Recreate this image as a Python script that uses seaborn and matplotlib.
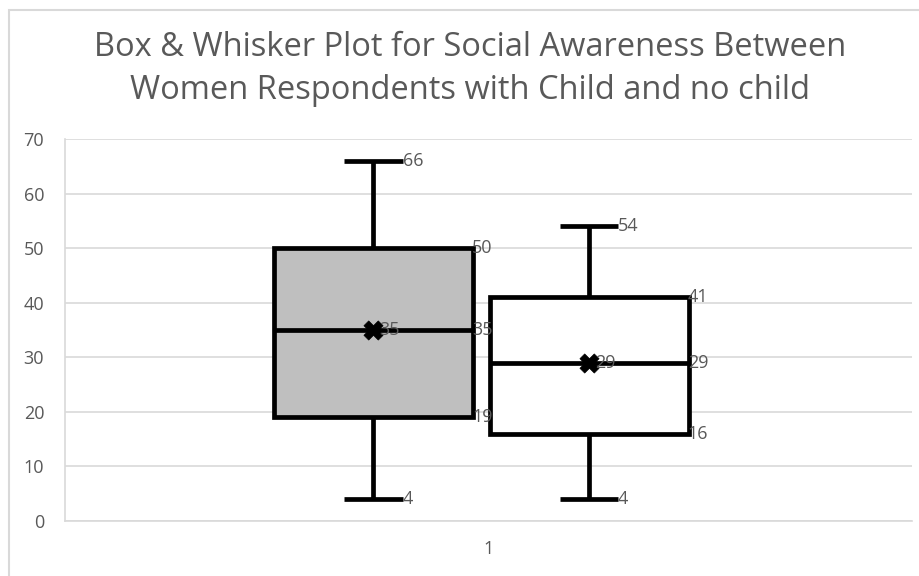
import numpy as np
import pandas as pd
import seaborn as sns
import matplotlib.pyplot as plt
from matplotlib.patches import Rectangle

# Five-number summaries (min, Q1, median, Q3, max) and means per group
groups = ["With child", "No child"]
with_child = [4, 19, 35, 50, 66]
no_child = [4, 16, 29, 41, 54]
means = [35, 29]
category_label = "1"

title = "Box & Whisker Plot for Social Awareness Between\nWomen Respondents with Child and no child"

# Horizontal placement of the two boxes inside the single category
positions = [-0.1358, 0.1187]
box_width = 0.235
cap_half = 0.0343

sns.set_theme(style="white")
plt.rcParams["font.family"] = ["Open Sans", "DejaVu Sans"]

label_color = "#595959"
grid_color = "#D9D9D9"

df = pd.DataFrame({
    "group": np.repeat(groups, 5),
    "pos": np.repeat(positions, 5),
    "value": with_child + no_child,
})

fig = plt.figure(figsize=(9.19, 5.76), dpi=100)
ax = fig.add_axes([65 / 919, 1 - 521 / 576, (912 - 65) / 919, (521 - 139) / 576])

spacing = positions[1] - positions[0]
sns.boxplot(
    data=df, x="pos", y="value", hue="group", native_scale=True, dodge=False,
    palette={"With child": "#BFBFBF", "No child": "white"},
    width=box_width / spacing, whis=np.inf, linecolor="black", linewidth=3.4,
    legend=False, ax=ax,
)

# shorten whisker caps
for line in ax.lines:
    xd = np.asarray(line.get_xdata(), dtype=float)
    yd = np.asarray(line.get_ydata(), dtype=float)
    if len(xd) == 2 and yd[0] == yd[1]:
        mid = xd.mean()
        half = abs(xd[1] - xd[0]) / 2
        if half < box_width / 2 - 1e-6:
            line.set_xdata([mid - cap_half, mid + cap_half])
    line.set_solid_capstyle("butt")

# mean markers
sns.scatterplot(x=positions, y=means, marker="X", s=190, color="black",
                edgecolor="black", linewidth=0.5, zorder=5, ax=ax)

stats = [with_child, no_child]
for pos, st, mean in zip(positions, stats, means):
    lo, q1, med, q3, hi = st
    cap_end = pos + cap_half
    box_end = pos + box_width / 2
    kw = dict(color=label_color, fontsize=13, va="center", ha="left", zorder=6)
    ax.text(cap_end, hi, str(hi), **kw)
    ax.text(cap_end, lo, str(lo), **kw)
    ax.text(box_end - 0.001, q3, str(q3), **kw)
    ax.text(box_end - 0.001, med, str(med), **kw)
    ax.text(box_end - 0.001, q1, str(q1), **kw)
    ax.text(pos + 0.007, mean, str(mean), **kw)

ax.set_xlim(-0.5, 0.5)
ax.set_ylim(0, 70)
ax.set_yticks(range(0, 71, 10))
ax.set_xticks([0])
ax.set_xticklabels([category_label])
ax.set_xlabel("")
ax.set_ylabel("")
ax.yaxis.grid(True, color=grid_color, linewidth=1.2)
ax.set_axisbelow(True)
ax.tick_params(axis="both", colors=label_color, labelsize=13, length=0)
ax.tick_params(axis="y", pad=15)
ax.tick_params(axis="x", pad=14)
for side in ["top", "right"]:
    ax.spines[side].set_visible(False)
for side in ["left", "bottom"]:
    ax.spines[side].set_color(grid_color)
    ax.spines[side].set_linewidth(1.2)

fig.text(470 / 919, 1 - 69 / 576, title, ha="center", va="center",
         fontsize=23.5, color=label_color, linespacing=1.42)

# chart area border
fig.patches.append(Rectangle((8.5 / 919, -0.1), 1.2, 1 - 9.5 / 576 + 0.1,
                             transform=fig.transFigure, fill=False,
                             edgecolor=grid_color, linewidth=1.5))

fig.savefig("out.png", dpi=100)
